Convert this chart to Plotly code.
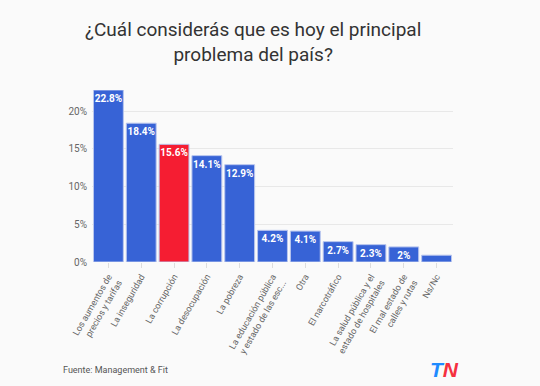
import plotly.graph_objects as go

categories = [
    "Los aumentos de<br>precios y tarifas",
    "La inseguridad",
    "La corrupción",
    "La desocupación",
    "La pobreza",
    "La educación pública<br>y estado de las esc...",
    "Otra",
    "El narcotráfico",
    "La salud pública y el<br>estado de hospitales",
    "El mal estado de<br>calles y rutas",
    "Ns/Nc",
]
values = [22.8, 18.4, 15.6, 14.1, 12.9, 4.2, 4.1, 2.7, 2.3, 2.0, 0.9]
value_labels = ["22.8%", "18.4%", "15.6%", "14.1%", "12.9%", "4.2%", "4.1%", "2.7%", "2.3%", "2%", ""]
y_ticks = [0, 5, 10, 15, 20]
y_tick_labels = ["0%", "5%", "10%", "15%", "20%"]
highlight = "La corrupción"

BLUE = "#3763d6"
RED = "#f51d32"
colors = [RED if c == highlight else BLUE for c in categories]

fig = go.Figure(
    go.Bar(
        x=categories,
        y=values,
        text=value_labels,
        textposition="inside",
        insidetextanchor="end",
        textangle=0,
        constraintext="none",
        textfont=dict(family="Roboto", size=10, color="white", weight="bold"),
        marker=dict(color=colors, line=dict(color="#b9c6ee", width=1)),
        hoverinfo="skip",
    )
)

fig.update_layout(
    width=540,
    height=386,
    margin=dict(l=92, r=87, t=90, b=124),
    paper_bgcolor="#fafafa",
    plot_bgcolor="#fafafa",
    bargap=0.09,
    showlegend=False,
    font=dict(family="Roboto", color="#666666"),
    xaxis=dict(
        tickangle=-60,
        tickfont=dict(size=9, color="#666666"),
        ticks="outside",
        ticklen=5,
        tickcolor="#dddddd",
        showgrid=False,
        showline=False,
        automargin=False,
    ),
    yaxis=dict(
        range=[0, 22.8],
        tickmode="array",
        tickvals=y_ticks,
        ticktext=y_tick_labels,
        tickfont=dict(size=10, color="#666666"),
        ticklabelstandoff=4,
        gridcolor="#e8e8e8",
        zeroline=False,
        showline=False,
        automargin=False,
    ),
    annotations=[
        dict(
            text="¿Cuál considerás que es hoy el principal<br>problema del país?",
            xref="paper", yref="paper",
            x=0.446, y=1.0, yshift=74,
            xanchor="center", yanchor="top",
            showarrow=False,
            font=dict(family="Roboto", size=19, color="#333333"),
        ),
        dict(
            text="Fuente: Management & Fit",
            xref="paper", yref="paper",
            x=0, y=0, xshift=-31, yshift=-115,
            xanchor="left", yanchor="bottom",
            showarrow=False,
            font=dict(family="Roboto", size=9, color="#555555"),
        ),
        dict(
            text="<b><i><span style='color:#1e8bff'>T</span><span style='color:#f5303f'>N</span></i></b>",
            xref="paper", yref="paper",
            x=0, y=0, xshift=336, yshift=-121,
            xanchor="left", yanchor="bottom",
            showarrow=False,
            font=dict(family="Liberation Sans", size=21),
        ),
    ],
)

fig.write_html(
    "out.html",
    config={"displayModeBar": False},
    post_script="document.body.style.margin='0';",
)
